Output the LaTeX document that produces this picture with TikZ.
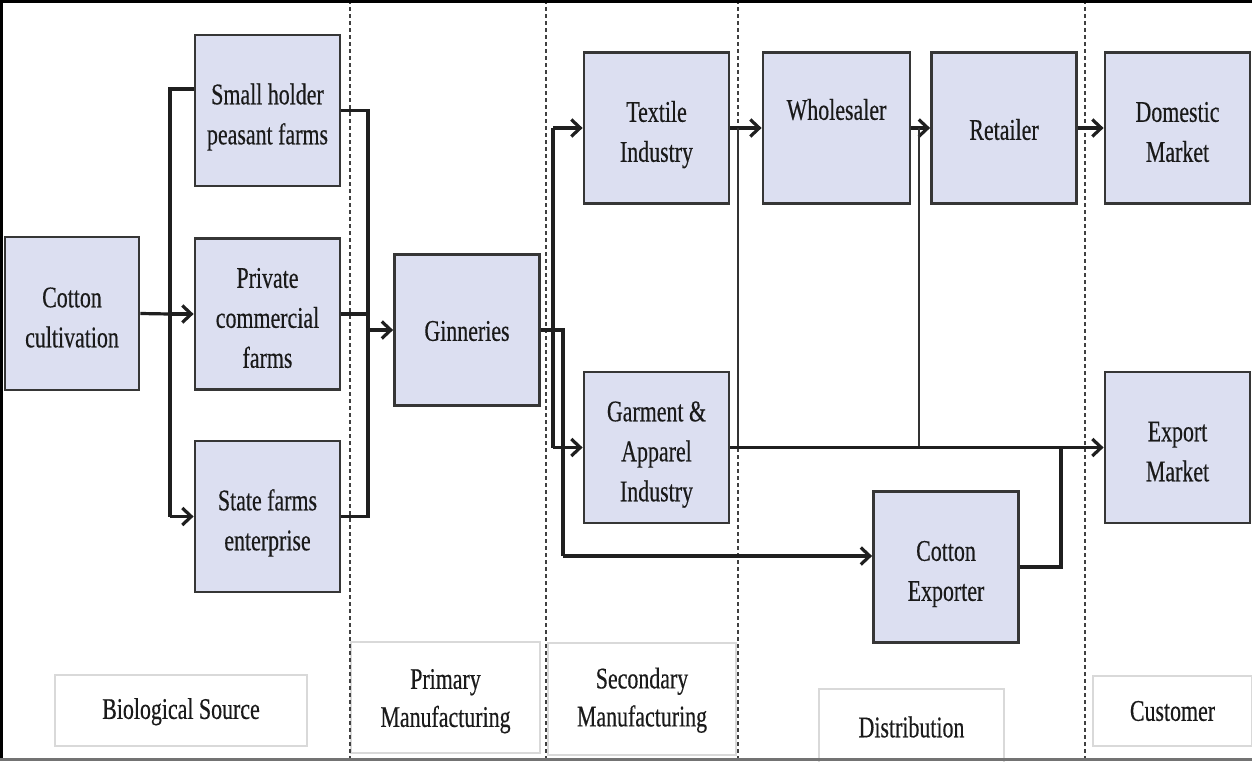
\documentclass[tikz,border=0pt]{standalone}
\usepackage{fontspec}
\setmainfont[FakeStretch=0.73,FakeBold=0.4]{Liberation Serif}
\usetikzlibrary{arrows.meta}
\definecolor{boxfill}{HTML}{DCDFF1}
\definecolor{boxline}{HTML}{363636}
\definecolor{txt}{HTML}{1A1A1A}
\newcommand{\boxtext}[2][12pt]{\raisebox{-#1}[0pt][0pt]{\begin{tabular}{@{}c@{}}#2\end{tabular}}}
\begin{document}
\begin{tikzpicture}[x=1pt,y=-1pt,
  stagebox/.style={draw=boxline,line width=2.8pt,fill=boxfill,minimum width=145pt,minimum height=151pt,inner sep=0pt,align=center,text=txt,font=\fontsize{30}{40}\selectfont},
  labelbox/.style={draw=black!15,line width=1.5pt,fill=white,inner sep=0pt,align=center,text=txt,font=\fontsize{30}{38}\selectfont},
  conn/.style={draw=black!88,line width=3.2pt},
  thinconn/.style={draw=black!80,line width=2pt},
  arr/.style={-{Straight Barb[length=9pt,width=17pt]}},
  divider/.style={draw=black!75,line width=1.6pt,dash pattern=on 4pt off 3pt}]
\useasboundingbox (0,0) rectangle (1252,761);
\clip (0,0) rectangle (1252,761);

% bottom stage labels
\node[labelbox,minimum width=252pt,minimum height=71pt] (bio) at (181,710.5) {\boxtext[7pt]{Biological Source}};
\node[labelbox,minimum width=189pt,minimum height=111pt] (prim) at (445.5,697.5) {\boxtext[9pt]{Primary\\Manufacturing}};
\node[labelbox,minimum width=188pt,minimum height=112pt] (sec) at (642,699) {\boxtext[7pt]{Secondary\\Manufacturing}};
\node[labelbox,minimum width=185pt,minimum height=76pt] (dist) at (911.5,727) {Distribution};
\node[labelbox,minimum width=159pt,minimum height=70pt] (cust) at (1172.5,711) {Customer};

% stage dividers
\coordinate (d1t) at (350,0); \coordinate (d1b) at (350,761);
\coordinate (d2t) at (546,0); \coordinate (d2b) at (546,761);
\coordinate (d3t) at (738,0); \coordinate (d3b) at (738,761);
\coordinate (d4t) at (1085,0); \coordinate (d4b) at (1085,761);
\draw[divider] (d1t) -- (d1b);
\draw[divider] (d2t) -- (d2b);
\draw[divider] (d3t) -- (d3b);
\draw[divider] (d4t) -- (d4b);

% frame
\coordinate (fa) at (0,1.5); \coordinate (fb) at (1252,1.5);
\coordinate (fc) at (1.5,0); \coordinate (fd) at (1.5,761);
\coordinate (fe) at (0,759.5); \coordinate (ff) at (1252,759.5);
\draw[line width=3pt] (fa) -- (fb);
\draw[line width=3pt] (fc) -- (fd);
\draw[black!55,line width=2.5pt] (fe) -- (ff);

% main boxes
\node[stagebox,minimum width=134pt,minimum height=153pt] (cult) at (72,313.5) {\boxtext{Cotton\\cultivation}};
\node[stagebox] (small) at (267.5,110.5) {\boxtext{Small holder\\peasant farms}};
\node[stagebox] (priv) at (267.5,314) {\boxtext{Private\\commercial\\farms}};
\node[stagebox] (state) at (267.5,516.5) {\boxtext{State farms\\enterprise}};
\node[stagebox] (gin) at (467,330) {\boxtext[9pt]{Ginneries}};
\node[stagebox] (tex) at (656.5,128) {\boxtext{Textile\\Industry}};
\node[stagebox] (gar) at (656.5,447.5) {\boxtext{Garment \&\\Apparel\\Industry}};
\node[stagebox,minimum width=147pt] (whole) at (836.5,128) {\boxtext[-10pt]{Wholesaler}};
\node[stagebox] (ret) at (1004,128) {\boxtext[10pt]{Retailer}};
\node[stagebox] (dom) at (1177.5,128) {\boxtext{Domestic\\Market}};
\node[stagebox] (exp) at (1177.5,447.5) {\boxtext{Export\\Market}};
\node[stagebox] (cexp) at (946,567) {\boxtext{Cotton\\Exporter}};

% cultivation -> farms
\coordinate (ja) at (170,89);
\coordinate (jb) at (170,314);
\coordinate (jc) at (170,516.5);
\draw[conn] (cult.east) -- (jb);
\draw[conn] (small.west |- ja) -- (ja) -- (jc);
\draw[conn,arr] (jb) -- (priv.west);
\draw[conn,arr] (jc) -- (state.west);

% farms -> ginneries
\coordinate (ka) at (368,110.5);
\coordinate (kb) at (368,330);
\coordinate (kc) at (368,516.5);
\draw[conn] (small.east) -- (ka) -- (kc) -- (state.east);
\draw[conn] (priv.east) -- (priv.east -| kb);
\draw[conn,arr] (kb) -- (gin.west);

% ginneries -> secondary manufacturing and exporter
\coordinate (ga) at (553,128);
\coordinate (gb) at (553,447.5);
\coordinate (gc) at (563,330);
\coordinate (gd) at (563,556);
\draw[conn] (gin.east) -- (gc) -- (gd);
\draw[conn] (ga) -- (gb);
\draw[conn,arr] (ga) -- (tex.west);
\draw[conn,arr] (gb) -- (gar.west);
\draw[conn,arr] (gd) -- (cexp.west |- gd);

% distribution
\coordinate (ta) at (738,128);
\coordinate (tb) at (738,448);
\coordinate (wa) at (919,128);
\coordinate (wb) at (919,448);
\coordinate (eb) at (1061,447.5);
\draw[conn,arr] (tex.east) -- (whole.west);
\draw[thinconn] (ta) -- (tb);
\draw[conn,arr] (whole.east) -- (ret.west);
\draw[thinconn] (wa) -- (wb);
\draw[conn,arr] (ret.east) -- (dom.west);
\draw[conn,arr] (gar.east) -- (exp.west);
\draw[conn] (cexp.east) -| (eb);
\end{tikzpicture}
\end{document}
